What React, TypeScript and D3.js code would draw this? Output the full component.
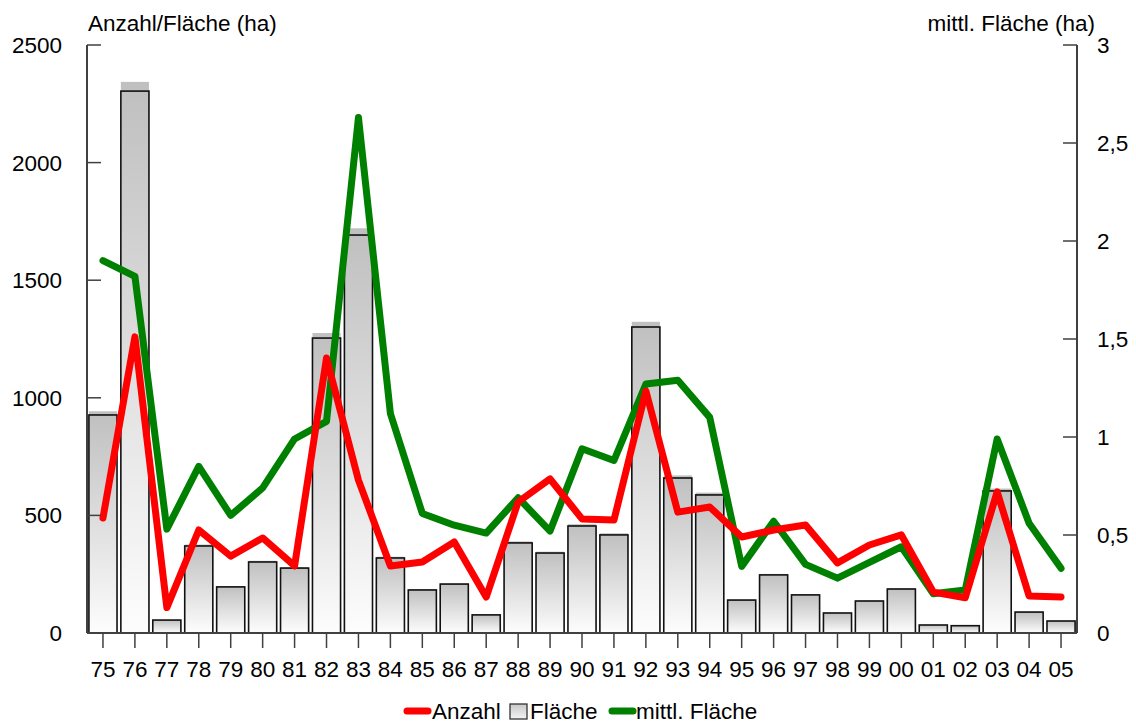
import React from "react";
import * as d3 from "d3";

const years = ["75","76","77","78","79","80","81","82","83","84","85","86","87","88","89","90","91","92","93","94","95","96","97","98","99","00","01","02","03","04","05"];
const flaeche = [927,2304,55,370,196,302,276,1254,1692,319,183,208,77,383,340,455,417,1301,659,587,140,247,162,85,136,187,34,31,604,89,51];
const anzahl = [489,1259,108,438,327,404,285,1169,650,285,302,387,153,557,655,485,480,1029,514,536,408,438,459,298,374,417,174,150,600,157,153];
const mittl = [1.9,1.82,0.53,0.85,0.6,0.74,0.99,1.08,2.63,1.12,0.61,0.55,0.51,0.69,0.52,0.94,0.88,1.27,1.29,1.1,0.34,0.57,0.35,0.28,0.36,0.44,0.2,0.22,0.99,0.56,0.33];
const leftTicks = [0,500,1000,1500,2000,2500];
const rightTicks = [0,0.5,1,1.5,2,2.5,3];

const W = 1136, H = 724;
const X0 = 87, X1 = 1077, Y0 = 633, Y1 = 45;
const FONT = "'Liberation Sans', Arial, sans-serif";
const FS = 22.5;

export default function App() {
  const x = d3.scaleBand<string>().domain(years).range([X0, X1]).paddingInner(0.12).paddingOuter(0.06);
  const yL = d3.scaleLinear().domain([0, 2500]).range([Y0, Y1]);
  const yR = d3.scaleLinear().domain([0, 3]).range([Y0, Y1]);
  const cx = (i: number) => (x(years[i]) as number) + x.bandwidth() / 2;
  const redLine = d3.line<number>().x((_, i) => cx(i)).y((d) => yL(d))(anzahl) as string;
  const greenLine = d3.line<number>().x((_, i) => cx(i)).y((d) => yR(d))(mittl) as string;
  const fmtR = (v: number) => String(v).replace(".", ",");
  const axisColor = "#404040";

  return (
    <svg width={W} height={H} style={{ position: "absolute", left: 0, top: 0, background: "#fff" }} fontFamily={FONT}>
      <defs>
        <linearGradient id="barGrad" x1="0" y1="0" x2="0" y2="1">
          <stop offset="0" stopColor="#c0c0c0" />
          <stop offset="1" stopColor="#fdfdfd" />
        </linearGradient>
        <linearGradient id="legGrad" x1="0" y1="0" x2="0" y2="1">
          <stop offset="0" stopColor="#c8c8c8" />
          <stop offset="1" stopColor="#f4f4f4" />
        </linearGradient>
      </defs>

      {/* bars */}
      {flaeche.map((v, i) => {
        const bx = x(years[i]) as number;
        const h = Y0 - yL(v);
        const sh = h * 1.017;
        return (
          <g key={years[i]}>
            <rect x={bx} y={Y0 - sh} width={x.bandwidth()} height={sh} fill="#c0c0c0" />
            <rect x={bx} y={yL(v)} width={x.bandwidth()} height={h} fill="url(#barGrad)" stroke="#111" strokeWidth={1.6} />
          </g>
        );
      })}

      {/* lines */}
      <path d={greenLine} fill="none" stroke="#008000" strokeWidth={7} strokeLinejoin="round" strokeLinecap="round" />
      <path d={redLine} fill="none" stroke="#ff0000" strokeWidth={7} strokeLinejoin="round" strokeLinecap="round" />

      {/* axes */}
      <line x1={X0} y1={Y1} x2={X0} y2={Y0} stroke={axisColor} strokeWidth={2} />
      <line x1={X1} y1={Y1} x2={X1} y2={Y0} stroke={axisColor} strokeWidth={2} />
      <line x1={X0} y1={Y0} x2={X1} y2={Y0} stroke={axisColor} strokeWidth={2} />
      {leftTicks.map((t) => (
        <g key={"l" + t}>
          <line x1={X0} x2={X0 + 14} y1={yL(t)} y2={yL(t)} stroke={axisColor} strokeWidth={1.5} />
          <text x={62} y={yL(t) + 8} textAnchor="end" fontSize={FS} fill="#000">{t}</text>
        </g>
      ))}
      {rightTicks.map((t) => (
        <g key={"r" + t}>
          <line x1={X1 - 14} x2={X1} y1={yR(t)} y2={yR(t)} stroke={axisColor} strokeWidth={1.5} />
          <text x={1097} y={yR(t) + 8} textAnchor="start" fontSize={FS} fill="#000">{fmtR(t)}</text>
        </g>
      ))}
      {years.map((yr, i) => (
        <g key={"x" + yr}>
          <line x1={cx(i)} x2={cx(i)} y1={Y0} y2={Y0 + 15} stroke={axisColor} strokeWidth={1.5} />
          <text x={cx(i)} y={677} textAnchor="middle" fontSize={FS} fill="#000">{yr}</text>
        </g>
      ))}

      {/* axis titles */}
      <text x={88} y={31} fontSize={FS} fill="#000">Anzahl/Fläche (ha)</text>
      <text x={1095} y={31} fontSize={FS} textAnchor="end" fill="#000">mittl. Fläche (ha)</text>

      {/* legend */}
      <line x1={407} x2={428} y1={711} y2={711} stroke="#ff0000" strokeWidth={7} strokeLinecap="round" />
      <text x={432} y={719} fontSize={FS} fill="#000">Anzahl</text>
      <rect x={510} y={704} width={17} height={15} fill="url(#legGrad)" stroke="#333" strokeWidth={1.3} />
      <text x={530} y={719} fontSize={FS} fill="#000">Fläche</text>
      <line x1={612} x2={633} y1={711} y2={711} stroke="#008000" strokeWidth={7} strokeLinecap="round" />
      <text x={636} y={719} fontSize={FS} fill="#000">mittl. Fläche</text>
    </svg>
  );
}
